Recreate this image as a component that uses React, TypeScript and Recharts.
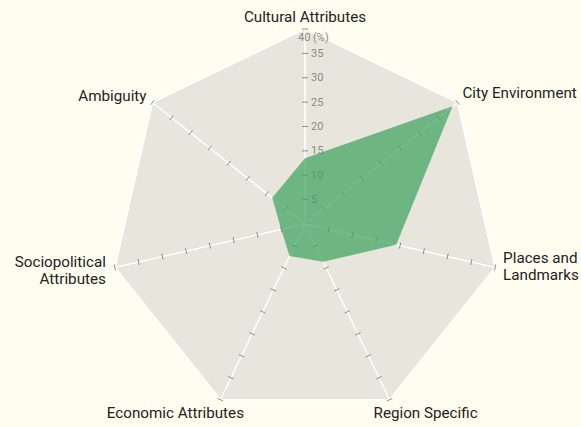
import React from "react";
import {
  RadarChart,
  Radar,
  PolarGrid,
  PolarAngleAxis,
  PolarRadiusAxis,
} from "recharts";

const categories = [
  "Cultural Attributes",
  "City Environment",
  "Places and Landmarks",
  "Region Specific",
  "Economic Attributes",
  "Sociopolitical Attributes",
  "Ambiguity",
];
const shares = [13.5, 38.7, 19.2, 8.6, 7.3, 5.0, 8.6];
const maxShare = 40;
const radiusTicks = [0, 5, 10, 15, 20, 25, 30, 35, 40];

const data = categories.map((name, i) => ({ name, share: shares[i] }));

const W = 581;
const H = 427;
const CX = 305;
const CY = 224;
const R = 195;
const RAD = Math.PI / 180;
const FONT = "Roboto, 'Noto Sans', sans-serif";

// label nudges from each outer vertex: [dx, dy, anchor]
const labelNudge: [number, number, "start" | "middle" | "end"][] = [
  [0, -12, "middle"],
  [5, -9, "start"],
  [8, -1, "start"],
  [36, 13, "middle"],
  [-45, 13, "middle"],
  [-9, 3, "end"],
  [-6, -6, "end"],
];

function wrap(label: string): string[] {
  if (label.length <= 19) return [label];
  const k = label.lastIndexOf(" ");
  return [label.slice(0, k), label.slice(k + 1)];
}

function AngleTick(props: any) {
  const { payload, index } = props;
  const a = payload.coordinate;
  const vx = CX + R * Math.cos(-a * RAD);
  const vy = CY + R * Math.sin(-a * RAD);
  const [dx, dy, anchor] = labelNudge[index] || [0, 0, "middle"];
  const lines = wrap(String(payload.value));
  const lh = 17;
  const y0 = vy + dy - ((lines.length - 1) * lh) / 2;
  return (
    <text
      x={vx + dx}
      y={y0}
      textAnchor={anchor}
      fontFamily={FONT}
      fontSize={15.2}
      fill="#222"
      dominantBaseline="central"
    >
      {lines.map((l, j) => (
        <tspan key={j} x={vx + dx} y={y0 + j * lh}>
          {l}
        </tspan>
      ))}
    </text>
  );
}

function RadiusTick(props: any) {
  const { x, y, payload } = props;
  const v = payload.value;
  if (v === 0) return <g />;
  const r = Math.hypot(x - CX, y - CY);
  const marks = categories.map((_, i) => {
    const a = (90 - (i * 360) / categories.length) * RAD;
    const px = CX + r * Math.cos(a);
    const py = CY - r * Math.sin(a);
    const ux = Math.sin(a);
    const uy = Math.cos(a);
    return (
      <line
        key={i}
        x1={px - 3 * ux}
        y1={py - 3 * uy}
        x2={px + 3 * ux}
        y2={py + 3 * uy}
        stroke="#8d8d88"
        strokeWidth={1}
      />
    );
  });
  return (
    <g>
      {marks}
      {v === maxShare ? (
        <text x={x - 7} y={y + 8} fontFamily={FONT} fontSize={11} fill="#8a8a86" dominantBaseline="central">
          {v} (%)
        </text>
      ) : (
        <text x={x + 6} y={y} fontFamily={FONT} fontSize={11} fill="#8a8a86" dominantBaseline="central">
          {v}
        </text>
      )}
    </g>
  );
}

export default function App() {
  return (
    <div style={{ width: W, height: H, background: "#fffdf0", position: "absolute", left: 0, top: 0 }}>
      <style>{"body{margin:0}"}</style>
      <RadarChart width={W} height={H} data={data} cx={CX} cy={CY} outerRadius={R} margin={{ top: 0, right: 0, bottom: 0, left: 0 }}>
        <PolarGrid
          gridType="polygon"
          polarRadius={[R]}
          stroke="#ffffff"
          strokeWidth={1.3}
          fill="#e8e6dc"
          fillOpacity={1}
        />
        <PolarAngleAxis dataKey="name" tick={AngleTick} tickLine={false} axisLine={false} />
        <PolarRadiusAxis
          angle={90}
          domain={[0, maxShare]}
          ticks={radiusTicks}
          tick={RadiusTick}
          axisLine={{ stroke: "#ffffff", strokeWidth: 1.3 }}
        />
        <Radar
          dataKey="share"
          fill="#3fa35e"
          fillOpacity={0.72}
          stroke="none"
          isAnimationActive={false}
          zIndex={900}
        />
      </RadarChart>
    </div>
  );
}
